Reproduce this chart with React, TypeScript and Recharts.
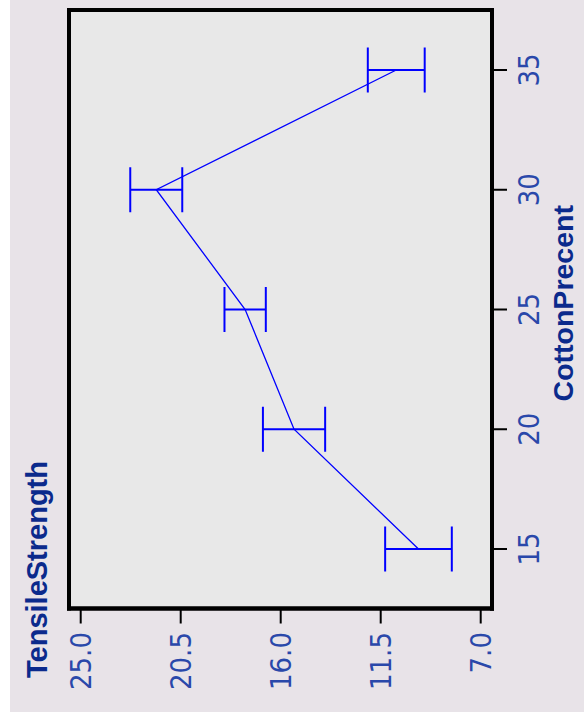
import React from 'react';
import { ComposedChart, Line, ErrorBar, XAxis, YAxis, CartesianGrid } from 'recharts';

// cotton percentage vs tensile strength (mean +/- standard error)
const COTTON = [15, 20, 25, 30, 35];
const MEANS = [9.8, 15.4, 17.6, 21.6, 10.8];
const ERRORS = [1.5, 1.4, 0.93, 1.17, 1.28];

const COTTON_TICKS = [15, 20, 25, 30, 35];
const STRENGTH_TICKS = [7, 11.5, 16, 20.5, 25];

const data = COTTON.map((c, i) => ({ cotton: c, mean: MEANS[i], err: ERRORS[i] }));

const TICK_FONT = "'Liberation Sans Narrow', 'DejaVu Sans Condensed', sans-serif";
const TITLE_FONT = "'Liberation Sans', Arial, sans-serif";
const TICK_COLOR = '#2a48aa';
const TITLE_COLOR = '#0b2a8c';

const tickStyle = { fontSize: 29, fill: TICK_COLOR, fontFamily: TICK_FONT, fontStretch: 'condensed' };

// unrotated chart size; the whole chart is turned 90deg counter-clockwise
const W = 712;
const H = 574;

// frame lines sit on the plot edges
const edgesH = ({ offset }: any) => [offset.top, offset.top + offset.height];
const edgesV = ({ offset }: any) => [offset.left, offset.left + offset.width];

export default function App() {
  return (
    <div style={{ position: 'absolute', left: 0, top: 0, width: 584, height: 727, background: '#ffffff' }}>
      <div
        style={{
          position: 'absolute',
          left: 0,
          top: 0,
          width: W,
          height: H,
          background: '#e8e3e8',
          transformOrigin: '0 0',
          transform: `translate(10px, ${W}px) rotate(-90deg)`,
        }}
      >
        <ComposedChart width={W} height={H} data={data} margin={{ top: 59, right: 10, bottom: 0, left: 13.5 }}>
          <CartesianGrid
            fill="#e8e8e8"
            stroke="#000"
            strokeWidth={4}
            strokeLinecap="square"
            horizontalCoordinatesGenerator={edgesH}
            verticalCoordinatesGenerator={edgesV}
          />
          <XAxis
            dataKey="cotton"
            type="number"
            domain={[15, 35]}
            ticks={COTTON_TICKS}
            padding={{ left: 59.5, right: 60 }}
            height={92}
            tickSize={15}
            tickMargin={11}
            tick={tickStyle}
            tickLine={{ stroke: '#000', strokeWidth: 2 }}
            axisLine={{ stroke: '#000', strokeWidth: 4, strokeLinecap: 'square' }}
            label={{
              value: 'CottonPrecent',
              position: 'insideBottom',
              offset: 11,
              dx: 6,
              style: { fontSize: 28.5, fontWeight: 700, fill: TITLE_COLOR, fontFamily: TITLE_FONT },
            }}
          />
          <YAxis
            type="number"
            domain={[7, 25]}
            ticks={STRENGTH_TICKS}
            tickFormatter={(v: number) => v.toFixed(1)}
            padding={{ top: 11.7, bottom: 11.3 }}
            width={90}
            tickSize={15}
            tickMargin={8.5}
            tick={tickStyle}
            tickLine={{ stroke: '#000', strokeWidth: 2 }}
            axisLine={{ stroke: '#000', strokeWidth: 4, strokeLinecap: 'square' }}
            label={{
              content: () => (
                <text
                  x={34}
                  y={36.5}
                  fontSize={29}
                  fontWeight={700}
                  fill={TITLE_COLOR}
                  fontFamily={TITLE_FONT}
                >
                  TensileStrength
                </text>
              ),
            }}
          />
          <Line
            type="linear"
            dataKey="mean"
            stroke="#0000ff"
            strokeWidth={1.3}
            dot={false}
            activeDot={false}
            isAnimationActive={false}
          >
            <ErrorBar dataKey="err" direction="y" width={22.5} stroke="#0000ff" strokeWidth={2} isAnimationActive={false} />
          </Line>
        </ComposedChart>
      </div>
    </div>
  );
}
